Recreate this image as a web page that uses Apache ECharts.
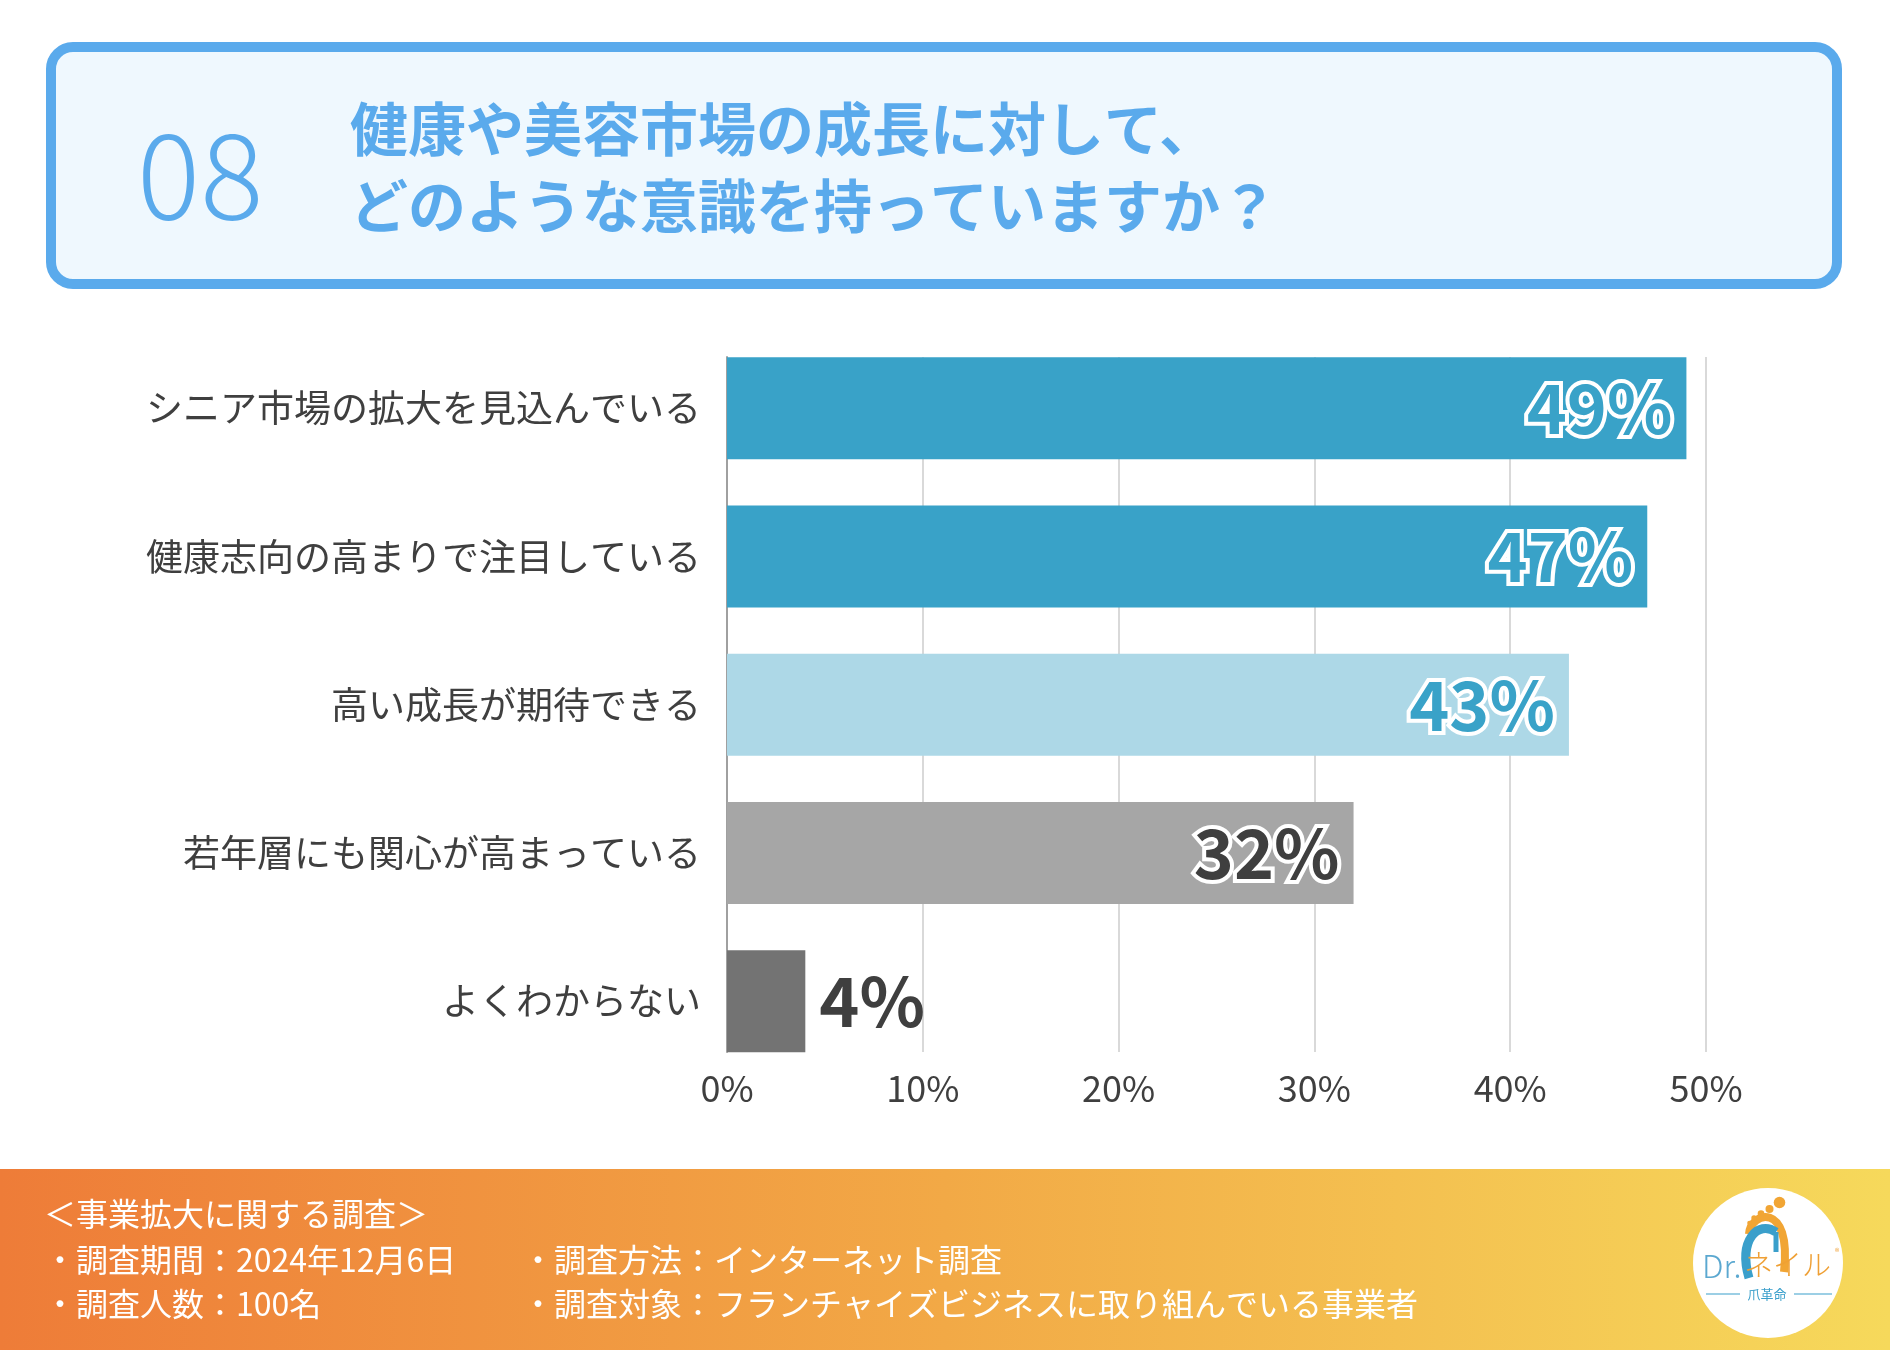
<!DOCTYPE html>
<html>
<head>
<meta charset="utf-8">
<script src="https://cdn.jsdelivr.net/npm/echarts@6/dist/echarts.min.js"></script>
<style>
html,body{margin:0;padding:0;background:#fff;}
#chart{width:1890px;height:1350px;}
</style>
</head>
<body>
<div id="chart"></div>
<script>
// ---- data ----
const categories = [
  'シニア市場の拡大を見込んでいる',
  '健康志向の高まりで注目している',
  '高い成長が期待できる',
  '若年層にも関心が高まっている',
  'よくわからない'
];
const values = [49, 47, 43, 32, 4];
const xTicks = [0, 10, 20, 30, 40, 50];
const titleNumber = '08';
const titleLines = ['健康や美容市場の成長に対して、', 'どのような意識を持っていますか？'];
const footerHeading = '＜事業拡大に関する調査＞';
const footerLeft = ['・調査期間：2024年12月6日', '・調査人数：100名'];
const footerRight = ['・調査方法：インターネット調査', '・調査対象：フランチャイズビジネスに取り組んでいる事業者'];

// ---- styles ----
const barColors = ['#39A2C8', '#39A2C8', '#ADD8E7', '#A6A6A6', '#737373'];
const labelColors = ['#39A2C8', '#39A2C8', '#39A2C8', '#3F3F3F', '#3F3F3F'];
const outsideLabel = [false, false, false, false, true];
const FONT = '"Noto Sans CJK JP", "Noto Sans", sans-serif';
const BLUE = '#5AAAEC';

const seriesData = values.map((v, i) => ({
  value: v,
  itemStyle: { color: barColors[i] },
  label: outsideLabel[i] ? {
    position: 'right', distance: 14, color: labelColors[i], textBorderWidth: 0
  } : {
    position: 'insideRight', distance: 14, color: labelColors[i],
    textBorderColor: '#fff', textBorderWidth: 8
  }
}));

const chart = echarts.init(document.getElementById('chart'), null, { renderer: 'canvas' });

const ORANGE = '#F1A534';
const LOGOBLUE = '#3A9FCB';
const graphics = [
  { type: 'rect', z: -10, shape: { x: 51, y: 47, width: 1786, height: 237, r: 22 },
    style: { fill: '#EFF8FE', stroke: BLUE, lineWidth: 10 } },
  { type: 'text', x: 137, y: 174, style: { text: titleNumber, fill: BLUE, font: '300 118px ' + FONT, verticalAlign: 'middle' } },
  { type: 'text', x: 350, y: 129, style: { text: titleLines[0], fill: BLUE, font: 'bold 58px ' + FONT, verticalAlign: 'middle' } },
  { type: 'text', x: 350, y: 206, style: { text: titleLines[1], fill: BLUE, font: 'bold 58px ' + FONT, verticalAlign: 'middle' } },
  // footer
  { type: 'rect', z: -10, shape: { x: 0, y: 1169, width: 1890, height: 181 },
    style: { fill: new echarts.graphic.LinearGradient(0, 0, 1, 0, [
      { offset: 0, color: '#EE7C38' }, { offset: 0.5, color: '#F2A946' }, { offset: 1, color: '#F6D95B' }]) } },
  { type: 'text', x: 44, y: 1214, style: { text: footerHeading, fill: '#fff', font: '32px ' + FONT, verticalAlign: 'middle' } },
  { type: 'text', x: 44, y: 1260, style: { text: footerLeft[0], fill: '#fff', font: '32px ' + FONT, verticalAlign: 'middle' } },
  { type: 'text', x: 44, y: 1304, style: { text: footerLeft[1], fill: '#fff', font: '32px ' + FONT, verticalAlign: 'middle' } },
  { type: 'text', x: 522, y: 1260, style: { text: footerRight[0], fill: '#fff', font: '32px ' + FONT, verticalAlign: 'middle' } },
  { type: 'text', x: 522, y: 1304, style: { text: footerRight[1], fill: '#fff', font: '32px ' + FONT, verticalAlign: 'middle' } },
  // logo
  { type: 'circle', shape: { cx: 1768, cy: 1263, r: 75 }, style: { fill: '#fff' } },
  { type: 'bezierCurve', shape: { x1: 1749, y1: 1234, cpx1: 1750, cpy1: 1212, cpx2: 1792, cpy2: 1200, x2: 1784, y2: 1272 },
    style: { stroke: ORANGE, lineWidth: 8, fill: 'none' } },
  { type: 'bezierCurve', shape: { x1: 1749, y1: 1278, cpx1: 1738, cpy1: 1240, cpx2: 1758, cpy2: 1220, x2: 1776, y2: 1232 },
    style: { stroke: LOGOBLUE, lineWidth: 9, fill: 'none' } },
  { type: 'line', shape: { x1: 1776, y1: 1232, x2: 1776, y2: 1252 }, style: { stroke: LOGOBLUE, lineWidth: 5 } },
  { type: 'circle', shape: { cx: 1779.5, cy: 1202.5, r: 5.8 }, style: { fill: ORANGE } },
  { type: 'circle', shape: { cx: 1769.5, cy: 1209, r: 4 }, style: { fill: ORANGE } },
  { type: 'circle', shape: { cx: 1761, cy: 1213.5, r: 3.3 }, style: { fill: ORANGE } },
  { type: 'circle', shape: { cx: 1754, cy: 1218, r: 2.7 }, style: { fill: ORANGE } },
  { type: 'circle', shape: { cx: 1749.5, cy: 1223, r: 2.3 }, style: { fill: ORANGE } },
  { type: 'text', x: 1702, y: 1266, style: { text: 'Dr.', fill: '#5BA8D0', font: '300 32px ' + FONT, verticalAlign: 'middle' } },
  { type: 'text', x: 1744, y: 1265, style: { text: 'ネイル', fill: '#EFA035', font: '300 29px ' + FONT, verticalAlign: 'middle' } },
  { type: 'text', x: 1835, y: 1252, style: { text: '®', fill: '#EFA035', font: '9px ' + FONT, verticalAlign: 'middle' } },
  { type: 'line', shape: { x1: 1706, y1: 1294, x2: 1740, y2: 1294 }, style: { stroke: LOGOBLUE, lineWidth: 1.2 } },
  { type: 'line', shape: { x1: 1794, y1: 1294, x2: 1832, y2: 1294 }, style: { stroke: LOGOBLUE, lineWidth: 1.2 } },
  { type: 'text', x: 1767, y: 1294, style: { text: '爪革命', fill: LOGOBLUE, font: '13px ' + FONT, align: 'center', verticalAlign: 'middle' } }
];

const option = {
  backgroundColor: '#fff',
  animation: false,
  textStyle: { fontFamily: FONT },
  grid: [
    { left: 727, width: 979, top: 334, height: 741.5, containLabel: false },
    { left: 727, width: 979, top: 357, height: 695, containLabel: false }
  ],
  xAxis: [
    { gridIndex: 0, type: 'value', min: 0, max: 50, interval: 10, show: false },
    { gridIndex: 1, type: 'value', min: xTicks[0], max: xTicks[xTicks.length - 1], interval: 10,
      axisLine: { show: false }, axisTick: { show: false },
      splitLine: { show: true, lineStyle: { color: '#D9D9D9', width: 2 } },
      axisLabel: { formatter: '{value}%', color: '#3F3F3F', fontSize: 36, fontFamily: FONT, margin: 18 } }
  ],
  yAxis: [
    { gridIndex: 0, type: 'category', data: categories, inverse: true,
      axisLine: { show: false }, axisTick: { show: false }, splitLine: { show: false },
      axisLabel: { color: '#3F3F3F', fontSize: 37, fontFamily: FONT, margin: 26 } },
    { gridIndex: 1, type: 'value', min: 0, max: 1,
      axisLine: { show: true, lineStyle: { color: '#A0A0A0', width: 2 } },
      axisTick: { show: false }, axisLabel: { show: false }, splitLine: { show: false } }
  ],
  series: [{
    type: 'bar',
    xAxisIndex: 0, yAxisIndex: 0,
    barWidth: 102,
    z: 3,
    data: seriesData,
    label: {
      show: true,
      formatter: '{c}%',
      fontSize: 68,
      fontWeight: 'bold',
      fontFamily: FONT
    }
  }],
  graphic: graphics
};
chart.setOption(option);
</script>
</body>
</html>
